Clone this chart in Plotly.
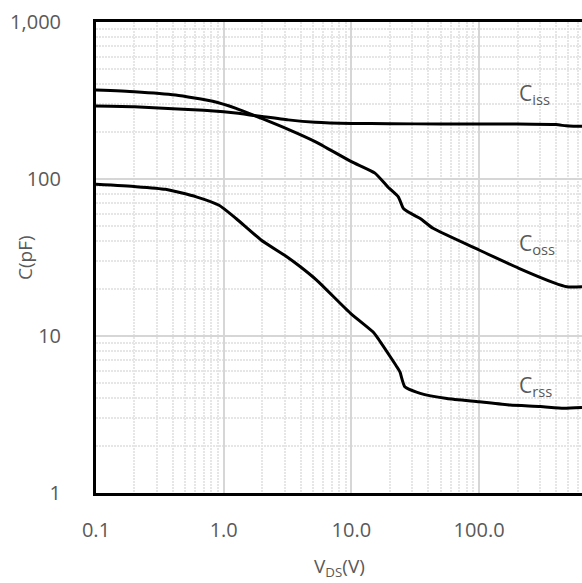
import math
import plotly.graph_objects as go

# Drain-source voltage (V) and capacitance (pF) for each curve
vds_iss = [0.1, 0.2, 0.4, 0.7, 1.0, 1.3, 1.6, 2.0, 3.2, 5.2, 10, 20, 50, 100, 200, 400, 480, 550, 640]
c_iss = [292, 289, 280, 274, 268, 262, 256, 250, 238, 230, 226, 225, 224, 224, 224, 222, 218, 217, 217]

vds_oss = [0.1, 0.2, 0.42, 0.82, 1.25, 1.96, 3.2, 5.2, 10, 15.3, 19.3, 23.3, 25.5, 27.5, 34.6, 43.6, 100, 205, 383, 487, 640]
c_oss = [369, 360, 343, 313, 282, 244, 207, 173, 129, 109, 89, 77, 65, 62, 56, 48.5, 35.3, 27, 21.9, 20.6, 20.6]

vds_rss = [0.1, 0.206, 0.35, 0.61, 0.92, 1.25, 1.96, 3.12, 3.94, 5.34, 9.8, 14.8, 15.8, 20.1, 22.6, 24, 26.2, 34.6, 56, 100, 175, 302, 459, 640]
c_rss = [92.5, 89.4, 86, 77, 68, 56, 40.9, 32, 27.8, 22.7, 14, 10.6, 9.9, 7.4, 6.4, 5.9, 4.75, 4.31, 4.0, 3.81, 3.63, 3.55, 3.46, 3.5]

# Curve names and label anchor points (V, pF)
series_names = ["C<sub>iss</sub>", "C<sub>oss</sub>", "C<sub>rss</sub>"]
label_at = [(198, 348), (198, 38.5), (198, 4.8)]

x_tickvals = [0.1, 1, 10, 100]
x_ticktext = ["0.1", "1.0", "10.0", "100.0"]
y_tickvals = [1, 10, 100, 1000]
y_ticktext = ["1", "10", "100", "1,000"]

TXT = "#595959"
FONT = "Open Sans"

x_minor = [k * 10 ** n for n in range(-1, 3) for k in range(2, 10)]
y_minor = [k * 10 ** n for n in range(0, 3) for k in range(2, 10)]

fig = go.Figure()
for xs, ys in [(vds_iss, c_iss), (vds_oss, c_oss), (vds_rss, c_rss)]:
    fig.add_trace(go.Scatter(x=xs, y=ys, mode="lines",
                             line=dict(color="black", width=3, shape="spline", smoothing=0.5),
                             showlegend=False, hoverinfo="skip"))

# Curve labels (log axes take log10 positions for annotations)
for name, (vx, cy) in zip(series_names, label_at):
    fig.add_annotation(x=math.log10(vx), y=math.log10(cy), xref="x", yref="y",
                       text=name, showarrow=False, xanchor="left", yanchor="middle",
                       font=dict(family=FONT, size=21, color=TXT))

# Axis titles
fig.add_annotation(x=-0.147, y=0.5, xref="paper", yref="paper", text="C(pF)",
                   textangle=-90, showarrow=False, xanchor="center", yanchor="middle",
                   font=dict(family=FONT, size=19, color=TXT))
fig.add_annotation(x=0.5, y=-0.157, xref="paper", yref="paper", text="V<sub>DS</sub>(V)",
                   showarrow=False, xanchor="center", yanchor="middle",
                   font=dict(family=FONT, size=19, color=TXT))

fig.update_xaxes(type="log", range=[-1, 2.806],
                 tickvals=x_tickvals, ticktext=x_ticktext,
                 tickfont=dict(family=FONT, size=20, color=TXT),
                 ticks="", ticklabelstandoff=17,
                 showgrid=True, gridcolor="#d6d6d6", gridwidth=2,
                 showline=True, linecolor="black", linewidth=3, mirror=True,
                 minor=dict(tickmode="array", tickvals=x_minor, showgrid=True,
                            gridcolor="#e6e6e6", gridwidth=2, griddash="2px,1px"),
                 zeroline=False)
fig.update_yaxes(type="log", range=[0, 3],
                 tickvals=y_tickvals, ticktext=y_ticktext,
                 tickfont=dict(family=FONT, size=20, color=TXT),
                 ticks="", ticklabelstandoff=28,
                 showgrid=True, gridcolor="#d6d6d6", gridwidth=2,
                 showline=True, linecolor="black", linewidth=3, mirror=False,
                 minor=dict(tickmode="array", tickvals=y_minor, showgrid=True,
                            gridcolor="#e6e6e6", gridwidth=2, griddash="2px,1px"),
                 zeroline=False)

fig.update_layout(width=582, height=583, autosize=False,
                  margin=dict(l=96, r=0, t=22, b=90),
                  paper_bgcolor="white", plot_bgcolor="white")

fig.write_html("out.html")
